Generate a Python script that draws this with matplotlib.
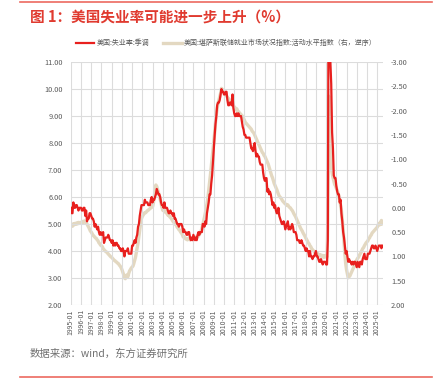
import matplotlib.pyplot as plt
import matplotlib.dates as mdates
import matplotlib.ticker as mticker
import pandas as pd

plt.rcParams['font.family'] = ['Noto Sans CJK SC', 'DejaVu Sans']

# US unemployment rate, seasonally adjusted (%), monthly from 1995-01
unemp = [
    5.6, 5.4, 5.4, 5.8, 5.6, 5.6, 5.7, 5.7, 5.6, 5.5, 5.6, 5.6,   # 1995
    5.6, 5.5, 5.5, 5.6, 5.6, 5.3, 5.5, 5.1, 5.2, 5.2, 5.4, 5.4,   # 1996
    5.3, 5.2, 5.2, 5.1, 4.9, 5.0, 4.9, 4.8, 4.9, 4.7, 4.6, 4.7,   # 1997
    4.6, 4.6, 4.7, 4.3, 4.4, 4.5, 4.5, 4.5, 4.6, 4.5, 4.4, 4.4,   # 1998
    4.3, 4.4, 4.2, 4.3, 4.2, 4.3, 4.3, 4.2, 4.2, 4.1, 4.1, 4.0,   # 1999
    4.0, 4.1, 4.0, 3.8, 4.0, 4.0, 4.0, 4.1, 3.9, 3.9, 3.9, 3.9,   # 2000
    4.2, 4.2, 4.3, 4.4, 4.3, 4.5, 4.6, 4.9, 5.0, 5.3, 5.5, 5.7,   # 2001
    5.7, 5.7, 5.7, 5.9, 5.8, 5.8, 5.8, 5.7, 5.7, 5.7, 5.9, 6.0,   # 2002
    5.8, 5.9, 5.9, 6.0, 6.1, 6.3, 6.2, 6.1, 6.1, 6.0, 5.8, 5.7,   # 2003
    5.7, 5.6, 5.8, 5.6, 5.6, 5.6, 5.5, 5.4, 5.4, 5.5, 5.4, 5.4,   # 2004
    5.3, 5.4, 5.2, 5.2, 5.1, 5.0, 5.0, 4.9, 5.0, 5.0, 5.0, 4.9,   # 2005
    4.7, 4.8, 4.7, 4.7, 4.6, 4.6, 4.7, 4.7, 4.5, 4.4, 4.5, 4.4,   # 2006
    4.6, 4.5, 4.4, 4.5, 4.4, 4.6, 4.7, 4.6, 4.7, 4.7, 4.7, 5.0,   # 2007
    5.0, 4.9, 5.1, 5.0, 5.4, 5.6, 5.8, 6.1, 6.1, 6.5, 6.8, 7.3,   # 2008
    7.8, 8.3, 8.7, 9.0, 9.4, 9.5, 9.5, 9.6, 9.8, 10.0, 9.9, 9.9,  # 2009
    9.8, 9.8, 9.9, 9.9, 9.6, 9.4, 9.4, 9.5, 9.5, 9.4, 9.8, 9.3,   # 2010
    9.1, 9.0, 9.0, 9.1, 9.0, 9.1, 9.0, 9.0, 9.0, 8.8, 8.6, 8.5,   # 2011
    8.3, 8.3, 8.2, 8.2, 8.2, 8.2, 8.2, 8.0, 7.8, 7.8, 7.7, 7.9,   # 2012
    8.0, 7.7, 7.5, 7.6, 7.5, 7.5, 7.3, 7.2, 7.2, 7.2, 6.9, 6.7,   # 2013
    6.6, 6.7, 6.7, 6.2, 6.3, 6.1, 6.2, 6.1, 5.9, 5.7, 5.8, 5.6,   # 2014
    5.7, 5.5, 5.4, 5.4, 5.6, 5.3, 5.2, 5.1, 5.0, 5.0, 5.1, 5.0,   # 2015
    4.8, 4.9, 5.0, 5.1, 4.8, 4.9, 4.8, 4.9, 5.0, 4.9, 4.7, 4.7,   # 2016
    4.7, 4.6, 4.4, 4.4, 4.4, 4.3, 4.3, 4.4, 4.3, 4.2, 4.2, 4.1,   # 2017
    4.0, 4.1, 4.0, 4.0, 3.8, 4.0, 3.8, 3.8, 3.7, 3.8, 3.8, 3.9,   # 2018
    4.0, 3.8, 3.8, 3.7, 3.6, 3.6, 3.7, 3.6, 3.5, 3.6, 3.6, 3.6,   # 2019
    3.5, 3.5, 4.4, 14.8, 13.2, 11.0, 10.2, 8.4, 7.8, 6.8, 6.7, 6.7,  # 2020
    6.4, 6.2, 6.1, 6.1, 5.8, 5.9, 5.4, 5.1, 4.7, 4.5, 4.2, 3.9,   # 2021
    4.0, 3.8, 3.6, 3.7, 3.6, 3.6, 3.5, 3.6, 3.5, 3.6, 3.6, 3.5,   # 2022
    3.4, 3.6, 3.5, 3.4, 3.6, 3.6, 3.5, 3.7, 3.8, 3.9, 3.7, 3.7,   # 2023
    3.7, 3.9, 3.9, 3.9, 4.0, 4.1, 4.2, 4.2, 4.1, 4.1, 4.2, 4.1,   # 2024
    4.0, 4.1, 4.2, 4.2, 4.2, 4.1, 4.2,                            # 2025
]

# KC Fed LMCI, level of activity (right axis, reversed)
lmci = [
    0.36, 0.34, 0.38, 0.33, 0.35, 0.32, 0.34, 0.31, 0.33, 0.30, 0.32, 0.30,   # 1995
    0.31, 0.29, 0.28, 0.30, 0.27, 0.28, 0.30, 0.33, 0.37, 0.40, 0.44, 0.48,   # 1996
    0.50, 0.53, 0.56, 0.58, 0.60, 0.62, 0.63, 0.66, 0.68, 0.72, 0.74, 0.77,   # 1997
    0.78, 0.80, 0.84, 0.86, 0.88, 0.90, 0.91, 0.93, 0.95, 0.97, 0.99, 1.01,   # 1998
    1.02, 1.04, 1.06, 1.08, 1.09, 1.11, 1.12, 1.14, 1.15, 1.18, 1.20, 1.23,   # 1999
    1.27, 1.32, 1.37, 1.44, 1.46, 1.40, 1.38, 1.42, 1.35, 1.30, 1.27, 1.24,   # 2000
    1.22, 1.20, 1.15, 1.08, 1.02, 0.92, 0.82, 0.72, 0.58, 0.45, 0.32, 0.22,   # 2001
    0.18, 0.15, 0.12, 0.10, 0.10, 0.08, 0.06, 0.05, 0.03, 0.02, 0.00, -0.02,  # 2002
    -0.02, -0.10, -0.22, -0.36, -0.47, -0.44, -0.38, -0.32, -0.25, -0.18, -0.10, -0.02,  # 2003
    0.05, 0.04, 0.08, 0.06, 0.10, 0.12, 0.15, 0.14, 0.18, 0.20, 0.22, 0.25,   # 2004
    0.28, 0.30, 0.32, 0.34, 0.36, 0.40, 0.42, 0.45, 0.46, 0.50, 0.52, 0.55,   # 2005
    0.60, 0.60, 0.62, 0.64, 0.63, 0.66, 0.64, 0.65, 0.66, 0.64, 0.65, 0.63,   # 2006
    0.64, 0.62, 0.63, 0.60, 0.62, 0.60, 0.58, 0.55, 0.52, 0.48, 0.42, 0.35,   # 2007
    0.28, 0.20, 0.12, 0.02, -0.08, -0.20, -0.35, -0.50, -0.68, -0.85, -1.02, -1.18,  # 2008
    -1.35, -1.55, -1.75, -1.92, -2.05, -2.15, -2.22, -2.30, -2.36, -2.46, -2.44, -2.40,  # 2009
    -2.38, -2.34, -2.36, -2.30, -2.28, -2.22, -2.24, -2.20, -2.18, -2.20, -2.14, -2.10,  # 2010
    -2.08, -2.06, -2.02, -2.04, -2.00, -1.98, -1.96, -1.94, -1.92, -1.90, -1.88, -1.84,  # 2011
    -1.80, -1.76, -1.74, -1.72, -1.70, -1.68, -1.66, -1.64, -1.62, -1.58, -1.56, -1.54,  # 2012
    -1.50, -1.46, -1.42, -1.38, -1.35, -1.30, -1.26, -1.22, -1.18, -1.14, -1.12, -1.08,  # 2013
    -1.06, -1.02, -0.98, -0.94, -0.90, -0.84, -0.78, -0.72, -0.66, -0.62, -0.56, -0.50,  # 2014
    -0.46, -0.42, -0.38, -0.33, -0.28, -0.24, -0.22, -0.20, -0.17, -0.14, -0.12, -0.10,  # 2015
    -0.08, -0.07, -0.05, -0.06, -0.03, -0.01, 0.00, 0.03, 0.05, 0.08, 0.12, 0.15,  # 2016
    0.18, 0.22, 0.26, 0.30, 0.34, 0.38, 0.42, 0.45, 0.48, 0.52, 0.55, 0.58,   # 2017
    0.62, 0.65, 0.68, 0.72, 0.74, 0.78, 0.80, 0.84, 0.86, 0.88, 0.90, 0.93,   # 2018
    0.92, 0.95, 0.94, 0.97, 0.96, 0.99, 0.97, 1.00, 0.98, 1.02, 0.99, 1.01,   # 2019
    0.98, 1.02, 0.35, -2.30, -1.65, -1.10, -0.85, -0.72, -0.62, -0.55, -0.48, -0.45,  # 2020
    -0.40, -0.36, -0.30, -0.24, -0.15, -0.05, 0.06, 0.25, 0.45, 0.70, 0.95, 1.15,  # 2021
    1.28, 1.36, 1.44, 1.42, 1.40, 1.36, 1.32, 1.28, 1.24, 1.20, 1.16, 1.12,   # 2022
    1.07, 1.04, 1.02, 0.98, 0.95, 0.92, 0.88, 0.84, 0.82, 0.78, 0.75, 0.72,   # 2023
    0.70, 0.68, 0.64, 0.62, 0.58, 0.56, 0.52, 0.50, 0.48, 0.46, 0.44, 0.42,   # 2024
    0.40, 0.36, 0.32, 0.35, 0.30, 0.26, 0.33,                                 # 2025
]

dates = pd.date_range('1995-01-01', periods=len(unemp), freq='MS')

red = '#e8201e'
beige = '#e3d8c1'
grey = '#595959'

fig = plt.figure(figsize=(4.4, 3.88), dpi=100)
ax = fig.add_axes([0.161, 0.214, 0.709, 0.626])
ax2 = ax.twinx()

ax2.plot(dates, lmci, color=beige, lw=2.4, label='美国:堪萨斯联储就业市场状况指数:活动水平指数（右，逆序）')
ax.plot(dates, unemp, color=red, lw=1.6, label='美国:失业率:季调')

# red on top of beige
ax.set_zorder(ax2.get_zorder() + 1)
ax.patch.set_visible(False)

ax.set_ylim(2, 11)
ax.yaxis.set_major_locator(mticker.MultipleLocator(1))
ax.yaxis.set_major_formatter(mticker.FormatStrFormatter('%.2f'))
ax2.set_ylim(2, -3)
ax2.yaxis.set_major_locator(mticker.MultipleLocator(0.5))
ax2.yaxis.set_major_formatter(mticker.FormatStrFormatter('%.2f'))

ax.set_xlim(pd.Timestamp('1995-01-01'), pd.Timestamp('2025-07-20'))
ax.xaxis.set_major_locator(mdates.YearLocator())
ax.xaxis.set_major_formatter(mdates.DateFormatter('%Y-%m'))
for lab in ax.get_xticklabels():
    lab.set_rotation(90)

ax.grid(True, color='#dcdcdc', lw=0.8)
for a in (ax, ax2):
    for s in a.spines.values():
        s.set_visible(False)
    a.tick_params(length=0, labelsize=5.3, labelcolor=grey)
ax.tick_params(axis='x', labelsize=5, pad=3)
ax.tick_params(axis='y', pad=6)
ax2.tick_params(axis='y', pad=6)

h1, l1 = ax.get_legend_handles_labels()
h2, l2 = ax2.get_legend_handles_labels()
fig.legend(h1 + h2, l1 + l2, loc='center', bbox_to_anchor=(0.514, 0.889), ncol=2,
           frameon=False, fontsize=5, handlelength=2.7, columnspacing=2.0,
           handletextpad=0.3, labelcolor=grey)

fig.text(0.068, 0.958, '图 1：美国失业率可能进一步上升（%）', color='#e03a2f',
         fontsize=10.5, fontweight='bold', va='center')
fig.text(0.068, 0.088, '数据来源：wind，东方证券研究所', color='#707070',
         fontsize=7.5, va='center')
fig.add_artist(plt.Line2D([0.046, 0.982], [0.995, 0.995], color='#ec6a60', lw=1.2))
fig.add_artist(plt.Line2D([0.046, 0.982], [0.028, 0.028], color='#ec6a60', lw=1.2))

plt.savefig('out.png', dpi=100)
